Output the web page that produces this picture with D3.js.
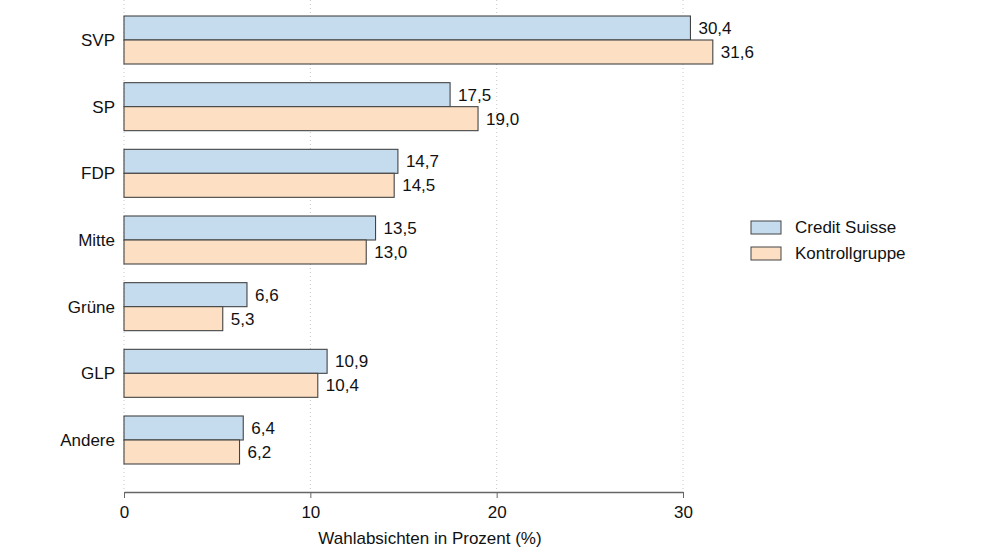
<!DOCTYPE html>
<html>
<head>
<meta charset="utf-8">
<script src="https://cdn.jsdelivr.net/npm/d3@7"></script>
<style>
body { margin: 0; background: #fff; }
text { font-family: "Liberation Sans", Arial, sans-serif; fill: #111; }
</style>
</head>
<body>
<script>
const parties = ["SVP", "SP", "FDP", "Mitte", "Grüne", "GLP", "Andere"];
const creditSuisse = [30.4, 17.5, 14.7, 13.5, 6.6, 10.9, 6.4];
const kontrollgruppe = [31.6, 19.0, 14.5, 13.0, 5.3, 10.4, 6.2];
const seriesNames = ["Credit Suisse", "Kontrollgruppe"];
const xTicks = [0, 10, 20, 30];

const w = 994, h = 559;
const colors = ["#c5dbee", "#fde0c4"];
const fs = 17;

const svg = d3.select("body").append("svg")
  .attr("width", w)
  .attr("height", h);

const x = d3.scaleLinear()
  .domain([0, 30])
  .range([124, 683]);

const y = d3.scaleBand()
  .domain(parties)
  .range([6.67, 473.33])
  .paddingInner(0.28)
  .paddingOuter(0.14);

const inner = d3.scaleBand()
  .domain(seriesNames)
  .range([0, y.bandwidth()]);

// dotted gridlines
svg.append("g")
  .selectAll("line")
  .data(xTicks)
  .join("line")
  .attr("x1", d => x(d)).attr("x2", d => x(d))
  .attr("y1", 0).attr("y2", 492)
  .attr("stroke", "#c8c8c8")
  .attr("stroke-dasharray", "1,3");

// x axis
const xAxis = svg.append("g")
  .attr("transform", "translate(0,492)")
  .call(d3.axisBottom(x).tickValues(xTicks).tickSize(6).tickSizeOuter(0).tickPadding(8));
xAxis.select(".domain").attr("stroke", "#666").attr("stroke-width", 1.3);
xAxis.selectAll(".tick line").attr("stroke", "#666");
xAxis.selectAll("text").attr("font-size", fs).attr("font-family", "Liberation Sans, Arial, sans-serif").attr("fill", "#111");

svg.append("text")
  .attr("x", 430).attr("y", 544)
  .attr("text-anchor", "middle")
  .attr("font-size", fs)
  .text("Wahlabsichten in Prozent (%)");

const rows = parties.map((p, i) => ({ party: p, values: [creditSuisse[i], kontrollgruppe[i]] }));

const groups = svg.append("g")
  .selectAll("g")
  .data(rows)
  .join("g")
  .attr("transform", d => `translate(0,${y(d.party)})`);

groups.selectAll("rect")
  .data(d => d.values.map((v, j) => ({ v, s: seriesNames[j], j })))
  .join("rect")
  .attr("x", x(0))
  .attr("y", d => inner(d.s))
  .attr("width", d => x(d.v) - x(0))
  .attr("height", inner.bandwidth())
  .attr("fill", d => colors[d.j])
  .attr("stroke", "#444")
  .attr("stroke-width", 1.1);

groups.selectAll("text.val")
  .data(d => d.values.map((v, j) => ({ v, s: seriesNames[j] })))
  .join("text")
  .attr("class", "val")
  .attr("x", d => x(d.v) + 8)
  .attr("y", d => inner(d.s) + inner.bandwidth() / 2)
  .attr("dy", "0.35em")
  .attr("font-size", fs)
  .text(d => d.v.toFixed(1).replace(".", ","));

// category labels
svg.append("g")
  .selectAll("text")
  .data(parties)
  .join("text")
  .attr("x", 115)
  .attr("y", d => y(d) + y.bandwidth() / 2)
  .attr("dy", "0.35em")
  .attr("text-anchor", "end")
  .attr("font-size", fs)
  .text(d => d);

// legend
const legend = svg.append("g")
  .selectAll("g")
  .data(seriesNames)
  .join("g")
  .attr("transform", (d, i) => `translate(751,${221 + i * 26})`);
legend.append("rect")
  .attr("width", 30).attr("height", 13)
  .attr("fill", (d, i) => colors[i])
  .attr("stroke", "#444");
legend.append("text")
  .attr("x", 44).attr("y", 6.5)
  .attr("dy", "0.35em")
  .attr("font-size", fs)
  .text(d => d);
</script>
</body>
</html>
